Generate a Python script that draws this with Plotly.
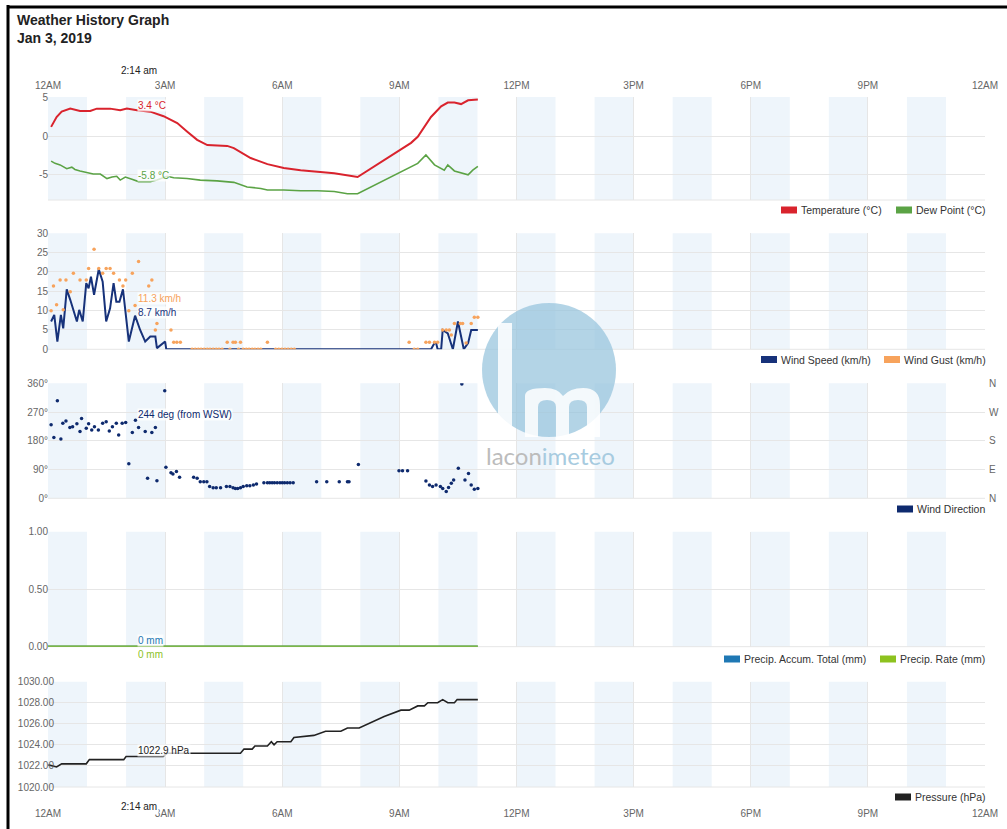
import plotly.graph_objects as go

# ---------------- data (hours after midnight, Jan 3 2019) ----------------
T_HOURS = [0.08, 0.22, 0.35, 0.57, 0.82, 1.08, 1.25, 1.59, 1.85, 2.02, 2.28, 2.62, 2.96, 3.31, 3.56,
           3.82, 4.08, 4.59, 4.76, 5.19, 5.62, 6.04, 6.47, 6.90, 7.33, 7.93, 8.61, 9.30, 9.47, 9.81,
           10.07, 10.24, 10.41, 10.58, 10.76, 11.01]
TEMP = [1.2, 2.5, 3.2, 3.6, 3.3, 3.3, 3.6, 3.6, 3.4, 3.6, 3.4, 3.2, 2.6, 1.7, 0.6,
        -0.5, -1.2, -1.3, -1.6, -2.9, -3.7, -4.2, -4.5, -4.7, -4.9, -5.4, -3.2, -0.9, -0.1, 2.5,
        3.9, 4.4, 4.4, 4.2, 4.7, 4.8]

D_HOURS = [0.08, 0.18, 0.31, 0.48, 0.61, 0.69, 0.82, 0.99, 1.16, 1.34, 1.51, 1.64, 1.76, 1.85, 1.98,
           2.15, 2.32, 2.62, 2.79, 3.05, 3.22, 3.56, 3.90, 4.33, 4.76, 5.10, 5.45, 5.62, 6.04, 6.47,
           6.90, 7.33, 7.67, 7.93, 8.61, 9.30, 9.47, 9.68, 9.90, 10.15, 10.24, 10.41, 10.58, 10.76,
           10.88, 11.01]
DEW = [-3.3, -3.6, -3.8, -4.3, -4.1, -4.4, -4.6, -4.8, -5.0, -5.0, -5.6, -5.4, -5.3, -5.8, -5.4,
       -5.7, -6.0, -6.0, -5.8, -5.3, -5.5, -5.6, -5.8, -5.9, -6.1, -6.7, -6.9, -7.1, -7.1, -7.2,
       -7.2, -7.3, -7.6, -7.6, -5.8, -4.0, -3.6, -2.5, -3.8, -4.5, -3.8, -4.6, -4.8, -5.1,
       -4.5, -4.0]

W_HOURS = [0.08, 0.16, 0.24, 0.33, 0.39, 0.48, 0.57, 0.65, 0.74, 0.80, 0.89, 0.98, 1.04, 1.10, 1.18,
           1.30, 1.40, 1.49, 1.59, 1.68, 1.75, 1.83, 1.92, 2.07, 2.23, 2.36, 2.49, 2.62, 2.75, 2.79,
           3.00, 3.03, 9.81, 9.90, 9.94, 9.98, 10.07, 10.11, 10.24, 10.37, 10.50, 10.65, 10.76,
           10.84, 11.01]
WIND = [7.2, 8.9, 2.0, 8.9, 5.4, 15.5, 12.8, 10.3, 7.2, 10.2, 7.2, 17.1, 15.8, 18.8, 14.1,
        20.7, 17.5, 7.2, 10.6, 17.1, 12.3, 12.3, 15.5, 2.0, 8.7, 5.0, 2.0, 3.3, 3.3, 0.3,
        2.0, 0.0, 0.0, 1.6, 1.6, 0.0, 0.0, 5.0, 4.1, 0.0, 7.2, 0.0, 1.6,
        5.0, 5.0]

G_HOURS = [0.08, 0.14, 0.22, 0.31, 0.39, 0.46, 0.57, 0.65, 0.82, 0.98, 1.04, 1.18, 1.30, 1.40, 1.49,
           1.59, 1.68, 1.83, 1.92, 1.99, 2.07, 2.16, 2.23, 2.32, 2.58, 2.66, 2.75, 2.79, 3.15, 3.22,
           3.30, 3.39, 3.69, 3.77, 3.85, 3.92, 4.00, 4.08, 4.15, 4.23, 4.31, 4.38, 4.46, 4.59, 4.66,
           4.74, 4.80, 4.88, 4.93, 5.00, 5.08, 5.15, 5.23, 5.30, 5.38, 5.45, 5.62, 5.83, 5.91, 5.99,
           6.07, 6.15, 6.23, 6.31, 9.25, 9.38, 9.47, 9.68, 9.77, 9.90, 9.98, 10.11, 10.20, 10.28,
           10.33, 10.41, 10.56, 10.62, 10.71, 10.84, 10.92, 11.01]
GUST = [10.0, 16.4, 11.5, 17.9, 10.2, 17.9, 14.9, 19.7, 17.9, 17.9, 20.9, 25.9, 20.9, 19.7, 20.9,
        20.9, 19.7, 17.9, 16.4, 17.9, 10.0, 19.7, 11.3, 22.7, 16.4, 17.9, 5.0, 6.7, 5.0, 1.8,
        1.8, 1.8, 0.0, 0.0, 0.0, 0.0, 0.0, 0.0, 0.0, 0.0, 0.0, 0.0, 0.0, 1.8, 0.0,
        1.8, 1.8, 0.0, 1.8, 0.0, 0.0, 0.0, 0.0, 0.0, 0.0, 0.0, 1.8, 0.0, 0.0, 0.0,
        0.0, 0.0, 0.0, 0.0, 1.8, 0.0, 0.0, 1.8, 1.8, 1.8, 1.8, 5.0, 5.0, 5.0,
        3.7, 6.7, 6.7, 6.7, 1.6, 6.7, 8.3, 8.3]

DIR_HOURS = [0.08, 0.15, 0.24, 0.33, 0.38, 0.46, 0.56, 0.63, 0.74, 0.82,
             0.86, 0.98, 1.04, 1.12, 1.19, 1.29, 1.40, 1.49, 1.57, 1.65,
             1.75, 1.81, 1.90, 1.99, 2.07, 2.16, 2.24, 2.32, 2.49, 2.55,
             2.66, 2.75, 2.79, 2.99, 3.02, 3.15, 3.20, 3.29, 3.37, 3.73,
             3.82, 3.90, 3.99, 4.07, 4.14, 4.23, 4.31, 4.42, 4.57, 4.66,
             4.74, 4.80, 4.86, 4.93, 5.00, 5.09, 5.17, 5.26, 5.34, 5.53,
             5.62, 5.68, 5.74, 5.80, 5.87, 5.94, 6.00, 6.06, 6.13, 6.20,
             6.28, 6.88, 7.14, 7.46, 7.67, 7.71, 7.95, 8.99, 9.08, 9.21,
             9.68, 9.77, 9.85, 9.94, 10.05, 10.11, 10.20, 10.26, 10.33, 10.39,
             10.51, 10.60, 10.68, 10.77, 10.84, 10.92, 11.01]
DIRECTION = [230, 190, 305, 186, 235, 242, 222, 224, 233, 209,
             250, 219, 233, 214, 224, 214, 235, 240, 211, 224,
             235, 198, 235, 237, 108, 206, 244, 222, 209, 63,
             206, 222, 55, 337, 97, 80, 76, 84, 66, 66,
             63, 52, 52, 52, 37, 33, 33, 33, 37, 37,
             33, 31, 31, 33, 37, 39, 39, 42, 45, 49,
             49, 49, 49, 49, 49, 49, 49, 49, 49, 49,
             49, 52, 52, 52, 52, 52, 106, 86, 86, 86,
             54, 42, 37, 42, 37, 31, 21, 34, 47, 57,
             94, 358, 57, 78, 42, 28, 31]

PR_HOURS = [0.0, 11.01]
PRECIP_TOTAL = [0.0, 0.0]
PRECIP_RATE = [0.0, 0.0]

P_HOURS = [0.01, 0.14, 0.22, 0.35, 0.98, 1.06, 1.94, 2.00, 2.95, 3.05, 3.78, 4.93, 5.02, 5.23, 5.30,
           5.62, 5.72, 5.79, 5.87, 6.22, 6.30, 6.81, 7.11, 7.50, 7.67, 7.97, 8.61, 9.04, 9.25, 9.47,
           9.64, 9.73, 9.98, 10.11, 10.24, 10.41, 10.48, 11.01]
PRESSURE = [1022.1, 1022.0, 1021.9, 1022.2, 1022.2, 1022.6, 1022.6, 1022.9, 1022.9, 1023.2,
            1023.2, 1023.2, 1023.6, 1023.6, 1023.9, 1023.9, 1024.3, 1024.0, 1024.3, 1024.3,
            1024.7, 1024.9, 1025.3, 1025.3, 1025.6, 1025.6, 1026.7, 1027.3, 1027.3, 1027.7,
            1027.7, 1028.0, 1028.0, 1028.3, 1028.0, 1028.0, 1028.3, 1028.3]

X_TICKS = [0, 3, 6, 9, 12, 15, 18, 21, 24]
X_LABELS = ["12AM", "3AM", "6AM", "9AM", "12PM", "3PM", "6PM", "9PM", "12AM"]
CURSOR_H = 2.233  # 2:14 am
CURSOR_LABEL = "2:14 am"

SERIES_NAMES = ["Temperature (°C)", "Dew Point (°C)", "Wind Speed (km/h)", "Wind Gust (km/h)",
                "Wind Direction", "Precip. Accum. Total (mm)", "Precip. Rate (mm)", "Pressure (hPa)"]

# ---------------- styling / geometry ----------------
FONT = "Liberation Sans, Arial, sans-serif"
W, H = 1007, 829
ML, MR, MT, MB = 48, 22, 97, 42
PW, PH = W - ML - MR, H - MT - MB
GRID = "#e6e6e6"
BAND = "#eef5fb"
TICKF = dict(family=FONT, size=10, color="#666")

C_TEMP, C_DEW = "#d9232d", "#5ba345"
C_WIND, C_GUST = "#17327a", "#f7a35c"
C_DIR = "#0e2a6e"
C_PTOT, C_PRATE = "#1f78b4", "#8dc21f"
C_PRES = "#222222"
SERIES_COLORS = [C_TEMP, C_DEW, C_WIND, C_GUST, C_DIR, C_PTOT, C_PRATE, C_PRES]
# legend placement (swatch left edge px, centre y px)
LEGEND_POS = [(781, 210), (896, 210), (761, 359.5), (884, 359.5), (897, 509),
              (724, 659), (880, 659), (895, 797)]


def px(x):
    return (x - ML) / PW


def py(y):
    return (H - MB - y) / PH


def pt(x, y):
    return f"{px(x):.5f},{py(y):.5f}"


DOMAINS = [[py(200), py(97)], [py(349.3), py(233.3)], [py(498.3), py(383.3)],
           [py(646.7), py(531.7)], [0.0, py(681.7)]]
RANGES = [[-8.42, 5.13], [0, 30], [0, 360], [0, 1], [1020, 1030]]
Y_STANDOFF = [-1, -1, -1, -1, -7]

fig = go.Figure()


def ax(n):
    return ("x" if n == 1 else f"x{n}"), ("y" if n == 1 else f"y{n}")


def add_line(x, y, color, width, n, name):
    xa, ya = ax(n)
    fig.add_trace(go.Scatter(x=x, y=y, mode="lines", line=dict(color=color, width=width), name=name,
                             xaxis=xa, yaxis=ya, showlegend=False, hoverinfo="skip"))


def add_marks(x, y, color, size, n, name):
    xa, ya = ax(n)
    fig.add_trace(go.Scatter(x=x, y=y, mode="markers", marker=dict(color=color, size=size), name=name,
                             xaxis=xa, yaxis=ya, showlegend=False, hoverinfo="skip"))


add_line(T_HOURS, TEMP, C_TEMP, 2, 1, SERIES_NAMES[0])
add_line(D_HOURS, DEW, C_DEW, 1.6, 1, SERIES_NAMES[1])
add_line(W_HOURS, WIND, C_WIND, 2, 2, SERIES_NAMES[2])
add_marks(G_HOURS, GUST, C_GUST, 3.5, 2, SERIES_NAMES[3])
add_marks(DIR_HOURS, DIRECTION, C_DIR, 3.5, 3, SERIES_NAMES[4])
add_line(PR_HOURS, PRECIP_TOTAL, C_PTOT, 2.5, 4, SERIES_NAMES[5])
add_line(PR_HOURS, PRECIP_RATE, C_PRATE, 2.5, 4, SERIES_NAMES[6])
add_line(P_HOURS, PRESSURE, C_PRES, 1.6, 5, SERIES_NAMES[7])

Y_TICKS = [[-5, 0, 5], [0, 5, 10, 15, 20, 25, 30], [0, 90, 180, 270, 360], [0, 0.5, 1.0],
           [1020, 1022, 1024, 1026, 1028, 1030]]
Y_LABELS = [["-5", "0", "5"], ["0", "5", "10", "15", "20", "25", "30"],
            ["0°", "90°", "180°", "270°", "360°"], ["0.00", "0.50", "1.00"],
            ["1020.00", "1022.00", "1024.00", "1026.00", "1028.00", "1030.00"]]

layout = dict(
    width=W, height=H, margin=dict(l=ML, r=MR, t=MT, b=MB, autoexpand=False),
    paper_bgcolor="white", plot_bgcolor="white", showlegend=False,
    font=dict(family=FONT, size=11, color="#333"), hovermode=False,
)

for i in range(5):
    n = i + 1
    xk = "xaxis" if n == 1 else f"xaxis{n}"
    yk = "yaxis" if n == 1 else f"yaxis{n}"
    xa, ya = ax(n)
    xd = dict(domain=[0, 1], anchor=ya, range=[0, 24], tickmode="array", tickvals=X_TICKS,
              ticktext=X_LABELS, showgrid=True, gridcolor=GRID, gridwidth=1, zeroline=False,
              showline=False, ticks="", tickfont=TICKF, showticklabels=False, fixedrange=True,
              automargin=False)
    if n == 1:
        xd.update(side="top", showticklabels=True, ticklabelstandoff=5)
    else:
        xd.update(matches="x")
    if n == 5:
        xd.update(showticklabels=True, ticklabelstandoff=19)
    layout[xk] = xd
    layout[yk] = dict(domain=DOMAINS[i], anchor=xa, range=RANGES[i],
                      tickmode="array", tickvals=Y_TICKS[i], ticktext=Y_LABELS[i],
                      showgrid=True, gridcolor=GRID, zeroline=False, showline=False, ticks="",
                      tickfont=TICKF, ticklabelstandoff=Y_STANDOFF[i], fixedrange=True,
                      automargin=False)

fig.update_layout(**layout)

# ---------------- shapes: hourly bands, bottom lines, legend swatches, frame, watermark ----------------
shapes = []
for i in range(5):
    n = i + 1
    xr, yb = ax(n)
    yr = yb + " domain"
    for h in range(0, 24, 2):
        shapes.append(dict(type="rect", xref=xr, yref=yr, x0=h, x1=h + 1, y0=0, y1=1,
                           fillcolor=BAND, line=dict(width=0), layer="below"))
    shapes.append(dict(type="line", xref="paper", yref=yr, x0=0, x1=1, y0=0, y1=0,
                       line=dict(color=GRID, width=1), layer="below"))

for (lx, ly), col in zip(LEGEND_POS, SERIES_COLORS):
    shapes.append(dict(type="rect", xref="paper", yref="paper", x0=px(lx), x1=px(lx + 16),
                       y0=py(ly + 3.5), y1=py(ly - 3.5), fillcolor=col, line=dict(width=0)))

# page frame (top and left rule)
shapes.append(dict(type="line", xref="paper", yref="paper", x0=px(7), x1=px(1007), y0=py(7), y1=py(7),
                   line=dict(color="black", width=3)))
shapes.append(dict(type="line", xref="paper", yref="paper", x0=px(8), x1=px(8), y0=py(5), y1=py(829),
                   line=dict(color="black", width=3)))

# watermark logo
shapes.append(dict(type="circle", xref="paper", yref="paper", x0=px(482), x1=px(616),
                   y0=py(437), y1=py(303), fillcolor="rgba(150,195,220,0.72)",
                   line=dict(width=0), layer="above"))
shapes.append(dict(type="rect", xref="paper", yref="paper", x0=px(498), x1=px(512),
                   y0=py(437), y1=py(323), fillcolor="rgba(255,255,255,0.85)",
                   line=dict(width=0), layer="above"))
m_path = (f"M{pt(525, 437)} L{pt(525, 396)} Q{pt(525, 388)} {pt(545, 388)} "
          f"Q{pt(558, 388)} {pt(563, 396)} Q{pt(570, 388)} {pt(583, 388)} "
          f"Q{pt(600, 388)} {pt(600, 405)} L{pt(600, 437)} L{pt(587, 437)} L{pt(587, 407)} "
          f"Q{pt(587, 400)} {pt(578, 400)} Q{pt(569, 400)} {pt(569, 407)} L{pt(569, 437)} "
          f"L{pt(556, 437)} L{pt(556, 407)} Q{pt(556, 400)} {pt(547, 400)} "
          f"Q{pt(538, 400)} {pt(538, 407)} L{pt(538, 437)} Z")
shapes.append(dict(type="path", xref="paper", yref="paper", path=m_path,
                   fillcolor="rgba(255,255,255,0.85)", line=dict(width=0), layer="above"))
fig.update_layout(shapes=shapes)

# ---------------- annotations ----------------
ann = []
ann.append(dict(xref="paper", yref="paper", x=px(15), y=py(20), xanchor="left", yanchor="middle",
                text="<b>Weather History Graph</b>", showarrow=False,
                font=dict(family=FONT, size=14, color="#222")))
ann.append(dict(xref="paper", yref="paper", x=px(15), y=py(38), xanchor="left", yanchor="middle",
                text="<b>Jan 3, 2019</b>", showarrow=False,
                font=dict(family=FONT, size=14, color="#222")))
for yy in (71, 806):
    ann.append(dict(xref="x", yref="paper", x=CURSOR_H, y=py(yy), xanchor="center", yanchor="middle",
                    xshift=4, text=CURSOR_LABEL, showarrow=False, bgcolor="white",
                    font=dict(family=FONT, size=10, color="#222")))

for (lx, ly), name in zip(LEGEND_POS, SERIES_NAMES):
    ann.append(dict(xref="paper", yref="paper", x=px(lx + 18), y=py(ly), xanchor="left", yanchor="middle",
                    text=name, showarrow=False, font=dict(family=FONT, size=10.5, color="#333")))


def value_label(text, n, yval, color, yshift):
    xa, ya = ax(n)
    return dict(xref=xa, yref=ya, x=CURSOR_H, y=yval,
                xanchor="left", yanchor="middle", xshift=2, yshift=yshift, text=text, showarrow=False,
                bgcolor="rgba(255,255,255,0.75)", borderpad=0,
                font=dict(family=FONT, size=10, color=color))


ann.append(value_label("3.4 °C", 1, 3.4, C_TEMP, 5))
ann.append(value_label("-5.8 °C", 1, -5.8, C_DEW, 5))
ann.append(value_label("11.3 km/h", 2, 11.3, C_GUST, 7))
ann.append(value_label("8.7 km/h", 2, 8.7, C_WIND, 3))
ann.append(value_label("244 deg (from WSW)", 3, 244, C_DIR, 6))
ann.append(value_label("0 mm", 4, 0, C_PTOT, 6))
ann.append(value_label("0 mm", 4, 0, C_PRATE, -8))
ann.append(value_label("1022.9 hPa", 5, 1022.9, C_PRES, 6))

for v, t in zip([360, 270, 180, 90, 0], ["N", "W", "S", "E", "N"]):
    ann.append(dict(xref="paper", yref="y3", x=1, y=v, xanchor="left", yanchor="middle", xshift=2,
                    text=t, showarrow=False, font=dict(family=FONT, size=10, color="#666")))

ann.append(dict(xref="paper", yref="paper", x=px(550), y=py(455), xanchor="center", yanchor="middle",
                text="<span style='color:#bcbcbc'>lacon</span><span style='color:#a7cbe0'>imeteo</span>",
                showarrow=False, font=dict(family="Lato, Open Sans, sans-serif", size=24)))
fig.update_layout(annotations=ann)

fig.write_html("out.html", config={"displayModeBar": False, "staticPlot": True},
               post_script="document.body.style.margin='0px';document.body.style.overflow='hidden';")
